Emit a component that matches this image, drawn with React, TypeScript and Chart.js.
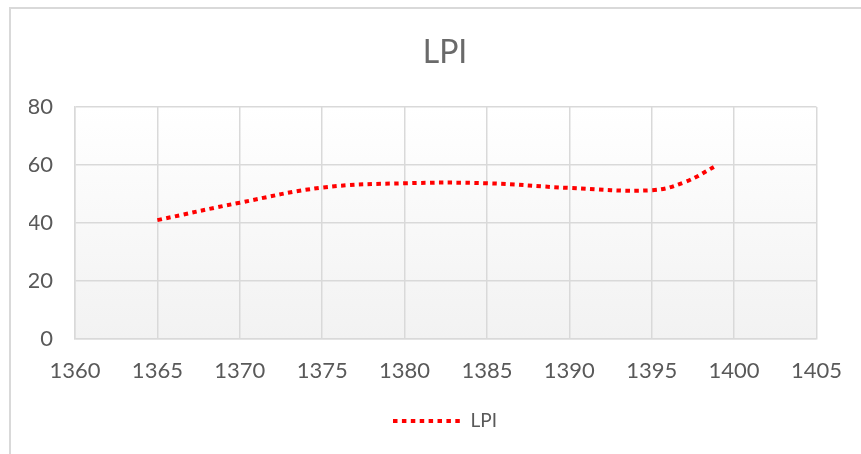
import React, { useEffect, useRef } from "react";
import { Chart, registerables } from "chart.js";

Chart.register(...registerables);

const years = [1365, 1370, 1375, 1380, 1385, 1390, 1395, 1397, 1399];
const lpiValues = [41, 47, 52.2, 53.7, 53.7, 52.1, 51.3, 54.1, 60];
const seriesName = "LPI";
const chartTitle = "LPI";
const xMin = 1360, xMax = 1405, xStep = 5;
const yMin = 0, yMax = 80, yStep = 20;

const TEXT = "#595959";
const GRID = "#d9d9d9";
const FONT = "Lato, 'Open Sans', sans-serif";
const DASH = [4.5, 4.4];

const framePlugin = {
  id: "frameAndPlot",
  beforeDraw(chart: any) {
    const { ctx, chartArea, width, height } = chart;
    ctx.save();
    ctx.fillStyle = "#ffffff";
    ctx.fillRect(0, 0, width, height);
    ctx.strokeStyle = GRID;
    ctx.lineWidth = 2;
    ctx.strokeRect(10, 8, width + 20, height + 20);
    const g = ctx.createLinearGradient(0, chartArea.top, 0, chartArea.bottom);
    g.addColorStop(0, "#ffffff");
    g.addColorStop(1, "#f2f2f2");
    ctx.fillStyle = g;
    ctx.fillRect(chartArea.left, chartArea.top, chartArea.right - chartArea.left, chartArea.bottom - chartArea.top);
    ctx.restore();
  },
};

export default function App() {
  const ref = useRef<HTMLCanvasElement | null>(null);
  useEffect(() => {
    document.body.style.margin = "0";
    const chart = new Chart(ref.current as HTMLCanvasElement, {
      type: "line",
      data: {
        datasets: [
          {
            label: seriesName,
            data: years.map((x, i) => ({ x, y: lpiValues[i] })),
            borderColor: "#ff0000",
            backgroundColor: "#ff0000",
            borderWidth: 4,
            borderDash: DASH,
            borderCapStyle: "butt",
            pointRadius: 0,
            tension: 0.4,
            fill: false,
          },
        ],
      },
      options: {
        animation: false,
        responsive: true,
        maintainAspectRatio: false,
        layout: { padding: { left: 29, right: 0, top: 0, bottom: 13.5 } },
        plugins: {
          title: {
            display: true,
            text: chartTitle,
            color: "#6a6a6a",
            font: { family: FONT, size: 32, weight: "normal" },
            padding: { top: 33, bottom: 35.6 },
          },
          legend: {
            display: true,
            position: "bottom",
            labels: {
              color: TEXT,
              font: { family: FONT, size: 19 },
              usePointStyle: true,
              pointStyle: "line",
              pointStyleWidth: 68,
              padding: 10,
              generateLabels(c: any) {
                const items = Chart.defaults.plugins.legend.labels.generateLabels(c);
                return items.map((it: any) => ({
                  ...it,
                  lineDash: DASH,
                  lineWidth: 4,
                  strokeStyle: "#ff0000",
                  fillStyle: "#ff0000",
                  lineCap: "butt",
                }));
              },
            },
          },
          tooltip: { enabled: false },
        },
        scales: {
          x: {
            type: "linear",
            min: xMin,
            max: xMax,
            ticks: {
              stepSize: xStep,
              color: TEXT,
              font: { family: FONT, size: 22 },
              padding: 19,
              maxRotation: 0,
              callback: (v: any) => String(v),
            },
            grid: { color: GRID, lineWidth: 1.5, drawTicks: false },
            border: { color: GRID, width: 1.5 },
            afterFit(scale: any) {
              scale.height = 62.5;
            },
          },
          y: {
            min: yMin,
            max: yMax,
            ticks: {
              stepSize: yStep,
              color: TEXT,
              font: { family: FONT, size: 22 },
              padding: 22,
              callback: (v: any) => String(v),
            },
            grid: { color: GRID, lineWidth: 1.5, drawTicks: false },
            border: { color: GRID, width: 1.5 },
            afterFit(scale: any) {
              scale.width = 46;
            },
          },
          yRightSpace: {
            type: "linear",
            position: "right",
            min: yMin,
            max: yMax,
            display: true,
            ticks: { display: false },
            grid: { display: false, drawTicks: false },
            border: { display: false },
            afterFit(scale: any) {
              scale.width = 43;
            },
          },
        },
      },
      plugins: [framePlugin],
    });
    return () => chart.destroy();
  }, []);
  return (
    <div style={{ position: "fixed", left: 0, top: 0, width: 861, height: 454 }}>
      <canvas ref={ref} />
    </div>
  );
}
